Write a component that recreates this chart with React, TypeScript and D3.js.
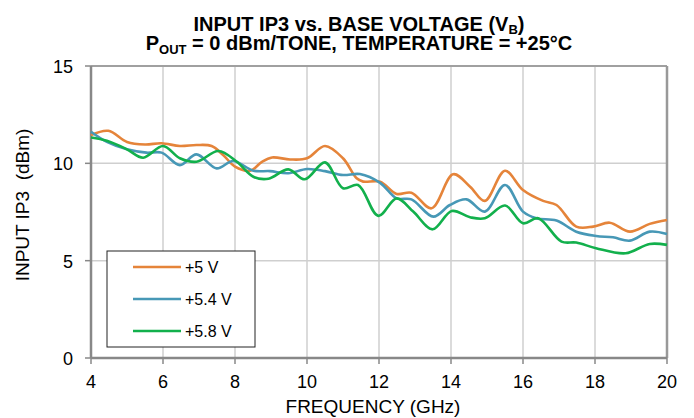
import React from "react";
import * as d3 from "d3";

// INPUT IP3 vs frequency, three base voltages
const freq5V = [4.0, 4.48, 5.0, 5.5, 5.96, 6.47, 6.93, 7.35, 7.67, 8.0, 8.42, 8.75, 9.03, 9.53, 10.0, 10.5, 11.0, 11.38, 11.56, 12.03, 12.49, 12.9, 13.46, 14.06, 14.53, 14.94, 15.5, 16.0, 16.56, 16.93, 17.48, 17.95, 18.41, 18.97, 19.52, 20.0];
const ip3_5V = [11.45, 11.67, 11.1, 10.97, 11.03, 10.89, 10.94, 10.89, 10.43, 9.83, 9.62, 10.08, 10.3, 10.2, 10.26, 10.89, 10.26, 9.23, 9.06, 9.06, 8.43, 8.49, 7.69, 9.44, 8.8, 8.07, 9.62, 8.63, 8.07, 7.86, 6.75, 6.75, 6.95, 6.49, 6.89, 7.09];

const freq54V = [4.0, 4.44, 5.0, 5.54, 5.96, 6.47, 6.93, 7.49, 7.95, 8.51, 8.97, 9.48, 10.0, 10.5, 11.0, 11.47, 12.03, 12.49, 12.9, 13.51, 13.97, 14.43, 14.94, 15.5, 16.0, 16.37, 16.93, 17.48, 18.03, 18.5, 18.97, 19.52, 20.0];
const ip3_54V = [11.62, 11.1, 10.72, 10.55, 10.55, 9.91, 10.46, 9.74, 10.12, 9.62, 9.6, 9.49, 9.71, 9.6, 9.4, 9.45, 9.0, 8.2, 8.15, 7.26, 7.86, 8.15, 7.52, 8.89, 7.52, 7.18, 7.06, 6.49, 6.27, 6.2, 6.03, 6.49, 6.37];

const freq58V = [4.0, 4.44, 5.0, 5.45, 6.0, 6.47, 6.93, 7.54, 8.05, 8.51, 8.93, 9.48, 9.94, 10.5, 11.0, 11.42, 11.98, 12.49, 12.95, 13.49, 14.02, 14.53, 14.94, 15.5, 16.0, 16.42, 17.07, 17.48, 18.03, 18.85, 19.52, 20.0];
const ip3_58V = [11.33, 11.16, 10.72, 10.29, 10.89, 10.26, 10.08, 10.63, 10.08, 9.31, 9.21, 9.69, 9.18, 10.05, 8.72, 8.89, 7.3, 8.2, 7.52, 6.61, 7.55, 7.23, 7.18, 7.83, 6.92, 7.18, 5.98, 5.93, 5.64, 5.38, 5.86, 5.81];

const seriesNames = ["+5 V", "+5.4 V", "+5.8 V"];
const seriesColors = ["#E5843A", "#4798B6", "#12B04C"];
const xTicks = [4, 6, 8, 10, 12, 14, 16, 18, 20];
const yTicks = [0, 5, 10, 15];

const width = 694;
const height = 418;
const margin = { top: 66, right: 27, bottom: 60, left: 91 };
const font = "'Liberation Sans', Arial, sans-serif";
const titleFont = "'Liberation Sans Narrow', 'Liberation Sans', Arial";

export default function App() {
  const x = d3.scaleLinear().domain([4, 20]).range([margin.left, width - margin.right]);
  const y = d3.scaleLinear().domain([0, 15]).range([height - margin.bottom, margin.top]);

  const line = d3
    .line<[number, number]>()
    .x((d) => x(d[0]))
    .y((d) => y(d[1]))
    .curve(d3.curveCatmullRom.alpha(0.5));

  const series = [
    d3.zip(freq5V, ip3_5V) as [number, number][],
    d3.zip(freq54V, ip3_54V) as [number, number][],
    d3.zip(freq58V, ip3_58V) as [number, number][],
  ];

  const x0 = x(4), x1 = x(20), y0 = y(0), y1 = y(15);
  const titleX = 359;

  return (
    <svg width={width} height={height} style={{ position: "absolute", left: 0, top: 0 }} fontFamily={font}>
      <rect width={width} height={height} fill="#fff" />

      {/* title */}
      <text x={titleX} y={31} textAnchor="middle" fontFamily={titleFont} fontWeight="bold" fontSize={20}>
        INPUT IP3 vs. BASE VOLTAGE (V<tspan fontSize={13} dy={3}>B</tspan><tspan dy={-3}>)</tspan>
      </text>
      <text x={titleX} y={50} textAnchor="middle" fontFamily={titleFont} fontWeight="bold" fontSize={20}>
        P<tspan fontSize={13} dy={4}>OUT</tspan><tspan dy={-4}> = 0 dBm/TONE, TEMPERATURE = +25°C</tspan>
      </text>

      {/* grid */}
      {xTicks.slice(1, -1).map((t) => (
        <line key={"gx" + t} x1={x(t)} x2={x(t)} y1={y1} y2={y0} stroke="#cfcfcf" strokeWidth={1.5} />
      ))}
      {yTicks.slice(1, -1).map((t) => (
        <line key={"gy" + t} x1={x0} x2={x1} y1={y(t)} y2={y(t)} stroke="#cfcfcf" strokeWidth={1.5} />
      ))}

      {/* frame */}
      <line x1={x0} x2={x1} y1={y1} y2={y1} stroke="#a0a0a0" strokeWidth={2} />
      <line x1={x1} x2={x1} y1={y1} y2={y0} stroke="#999" strokeWidth={2.5} />
      <line x1={x0} x2={x1} y1={y0} y2={y0} stroke="#888" strokeWidth={2.5} />
      <line x1={x0} x2={x0} y1={y1} y2={y0} stroke="#888" strokeWidth={2.5} />

      {/* ticks */}
      {xTicks.map((t) => (
        <g key={"tx" + t}>
          <line x1={x(t)} x2={x(t)} y1={y0} y2={y0 + 6} stroke="#888" strokeWidth={1.5} />
          <text x={x(t)} y={y0 + 30} textAnchor="middle" fontSize={18}>{t}</text>
        </g>
      ))}
      {yTicks.map((t) => (
        <g key={"ty" + t}>
          <line x1={x0 - 6} x2={x0} y1={y(t)} y2={y(t)} stroke="#888" strokeWidth={1.5} />
          <text x={x0 - 18} y={y(t) + 7} textAnchor="end" fontSize={18}>{t}</text>
        </g>
      ))}

      {/* axis titles */}
      <text x={373} y={413} textAnchor="middle" fontSize={19}>FREQUENCY (GHz)</text>
      <text transform={`translate(29, 205) rotate(-90)`} textAnchor="middle" fontSize={19} xmlSpace="preserve">INPUT IP3  (dBm)</text>

      {/* series */}
      {series.map((s, i) => (
        <path key={seriesNames[i]} d={line(s) ?? ""} fill="none" stroke={seriesColors[i]} strokeWidth={2.6} />
      ))}

      {/* legend */}
      <rect x={107} y={251} width={148} height={96} fill="#fff" stroke="#222" strokeWidth={1} />
      {seriesNames.map((n, i) => (
        <g key={"lg" + n}>
          <line x1={133} x2={181} y1={267 + i * 32} y2={267 + i * 32} stroke={seriesColors[i]} strokeWidth={2.6} />
          <text x={185} y={273 + i * 32} fontSize={16}>{n}</text>
        </g>
      ))}
    </svg>
  );
}
